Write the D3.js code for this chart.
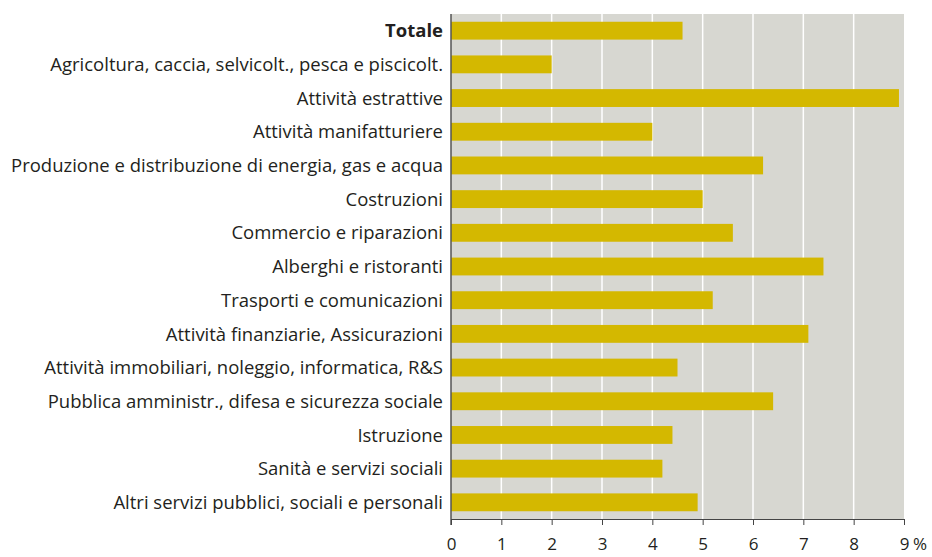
<!DOCTYPE html>
<html><head><meta charset="utf-8">
<script src="https://cdn.jsdelivr.net/npm/d3@7"></script>
<style>body{margin:0;background:#fff;} text{font-family:"Open Sans",Lato,sans-serif;fill:#231f20;}</style>
</head><body><svg id="c" width="932" height="557"></svg>
<script>
const categories = ["Totale","Agricoltura, caccia, selvicolt., pesca e piscicolt.","Attività estrattive","Attività manifatturiere","Produzione e distribuzione di energia, gas e acqua","Costruzioni","Commercio e riparazioni","Alberghi e ristoranti","Trasporti e comunicazioni","Attività finanziarie, Assicurazioni","Attività immobiliari, noleggio, informatica, R&S","Pubblica amministr., difesa e sicurezza sociale","Istruzione","Sanità e servizi sociali","Altri servizi pubblici, sociali e personali"];
const values = [4.6,2.0,8.9,4.0,6.2,5.0,5.6,7.4,5.2,7.1,4.5,6.4,4.4,4.2,4.9];
const xTicks = [0,1,2,3,4,5,6,7,8,9];

const svg = d3.select("#c");
const L=451, R=904, T=14, B=519;
const x = d3.scaleLinear().domain([0,9]).range([L,R]);
const y = d3.scaleBand().domain(categories).range([T,B]).paddingInner(0.47).paddingOuter(0.23);

svg.append("rect").attr("x",L).attr("y",T).attr("width",R-L).attr("height",B-T).attr("fill","#d7d7d1");
svg.selectAll("line.grid").data(xTicks.slice(1,-1)).enter().append("line")
  .attr("x1",d=>x(d)).attr("x2",d=>x(d)).attr("y1",T).attr("y2",B)
  .attr("stroke","#fff").attr("stroke-width",1.5);

svg.selectAll("rect.bar").data(values).enter().append("rect")
  .attr("x",L).attr("y",(d,i)=>y(categories[i])).attr("width",d=>x(d)-L).attr("height",y.bandwidth())
  .attr("fill","#d4b800");

// y labels
const labels = svg.selectAll("text.cat").data(categories).enter().append("text")
  .attr("x",443).attr("y",d=>y(d)+y.bandwidth()/2).attr("dy","0.36em")
  .attr("text-anchor","end").style("font-size","17px")
  .style("font-weight",(d,i)=>i===0?"bold":"normal").text(d=>d);
const ref = labels.filter((d,i)=>i===4).node();
const w = ref.getComputedTextLength();
const fs = 17*432/w;
labels.style("font-size",fs.toFixed(2)+"px");

// left axis line
svg.append("line").attr("x1",L).attr("x2",L).attr("y1",T).attr("y2",B+6).attr("stroke","#555").attr("stroke-width",1.5);

// bottom axis
const ax = svg.append("g").attr("transform",`translate(0,${B})`)
  .call(d3.axisBottom(x).tickValues(xTicks).tickSize(6).tickFormat(d3.format("d")));
ax.select(".domain").attr("stroke","#444");
ax.selectAll(".tick line").attr("stroke","#444");
ax.selectAll(".tick text").attr("y",19).style("font-size","17px").style("font-family","'Open Sans',sans-serif").attr("fill","#231f20");
svg.append("text").attr("x",913).attr("y",550).style("font-size","17px").text("%");
</script></body></html>
